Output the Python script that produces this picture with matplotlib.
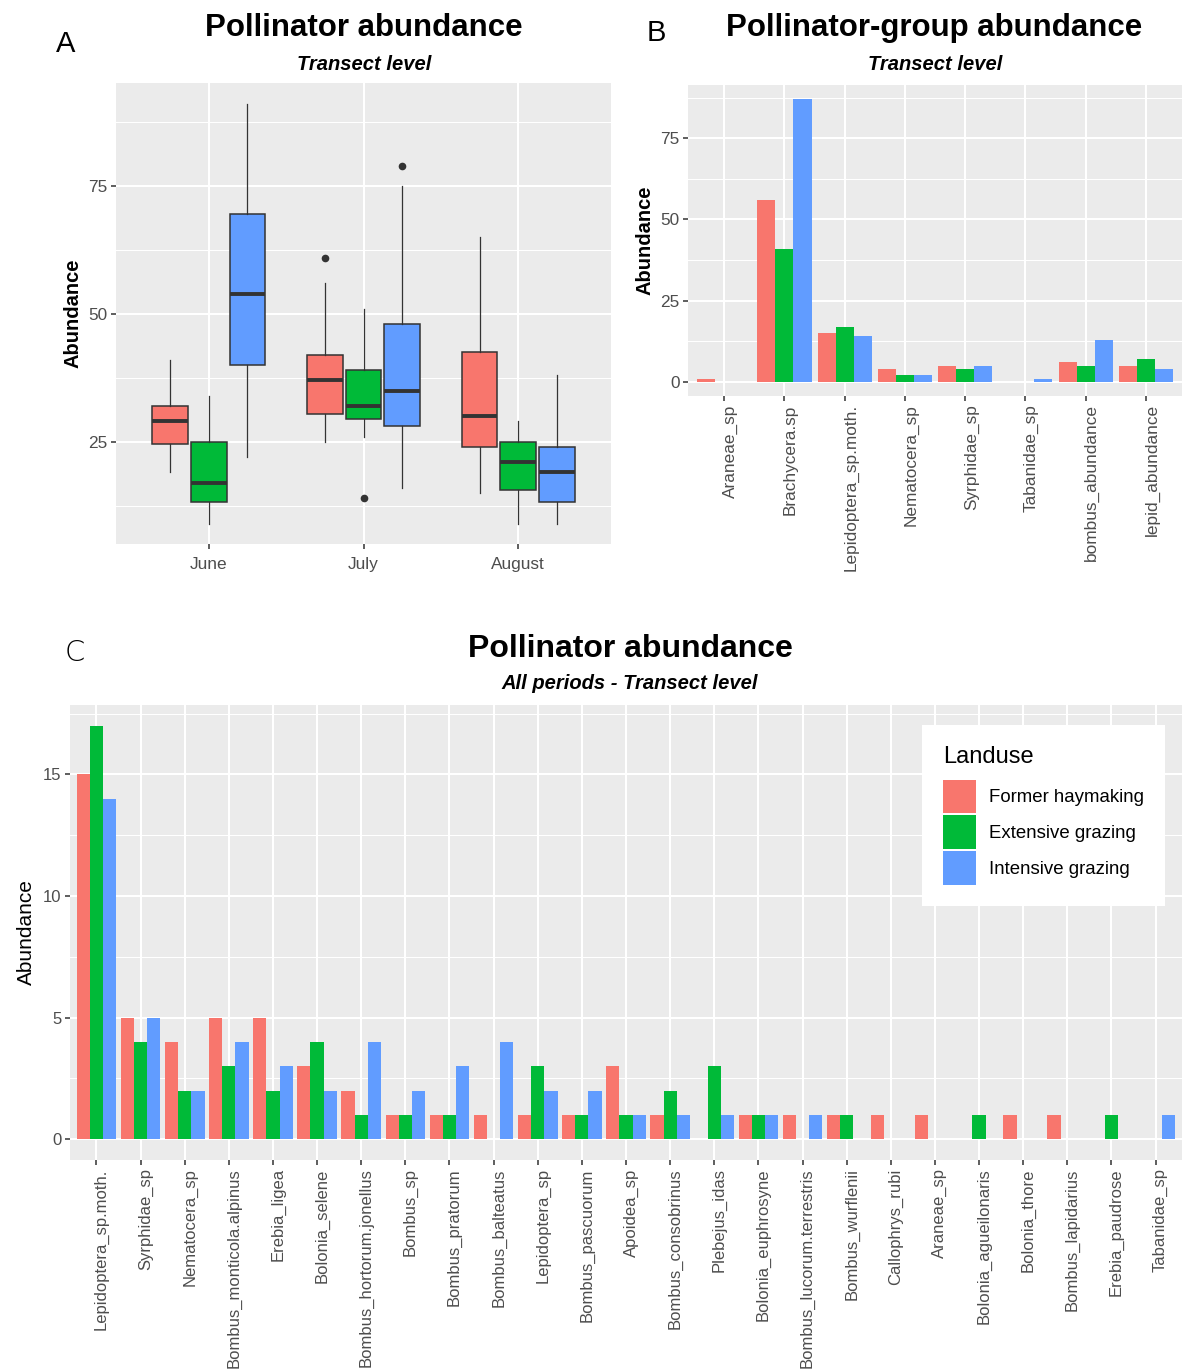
import matplotlib
matplotlib.use("Agg")
import matplotlib.pyplot as plt
import matplotlib.transforms as mtransforms
import numpy as np

plt.rcParams['font.family'] = ['Liberation Sans', 'DejaVu Sans']

landuse = ["Former haymaking", "Extensive grazing", "Intensive grazing"]
colors = ["#F8766D", "#00BA38", "#619CFF"]

# ---- panel A: box stats per month, one row per landuse (whislo, q1, med, q3, whishi)
months = ["June", "July", "August"]
june_stats = [[19, 24.5, 29, 32, 41], [9, 13.3, 17, 25, 34], [22, 40, 54, 69.5, 91]]
july_stats = [[25, 30.5, 37, 42, 56], [26, 29.5, 32, 39, 51], [16, 28, 35, 48, 75]]
august_stats = [[15, 24, 30, 42.5, 65], [9, 15.5, 21, 25, 29], [9, 13.3, 19, 24, 38]]
june_out = [[], [], []]
july_out = [[61], [14], [79]]
august_out = [[], [], []]

# ---- panel B: groups
groups = ["Araneae_sp", "Brachycera.sp", "Lepidoptera_sp.moth.", "Nematocera_sp",
          "Syrphidae_sp", "Tabanidae_sp", "bombus_abundance", "lepid_abundance"]
grp_former = [1, 56, 15, 4, 5, 0, 6, 5]
grp_ext = [0, 41, 17, 2, 4, 0, 5, 7]
grp_int = [0, 87, 14, 2, 5, 1, 13, 4]

# ---- panel C: taxa
taxa = ["Lepidoptera_sp.moth.", "Syrphidae_sp", "Nematocera_sp", "Bombus_monticola.alpinus",
        "Erebia_ligea", "Bolonia_selene", "Bombus_hortorum.jonellus", "Bombus_sp",
        "Bombus_pratorum", "Bombus_balteatus", "Lepidoptera_sp", "Bombus_pascuorum",
        "Apoidea_sp", "Bombus_consobrinus", "Plebejus_idas", "Bolonia_euphrosyne",
        "Bombus_lucorum.terrestris", "Bombus_wurflenii", "Callophrys_rubi", "Araneae_sp",
        "Bolonia_agueilonaris", "Bolonia_thore", "Bombus_lapidarius", "Erebia_paudrose",
        "Tabanidae_sp"]
tax_former = [15, 5, 4, 5, 5, 3, 2, 1, 1, 1, 1, 1, 3, 1, 0, 1, 1, 1, 1, 1, 0, 1, 1, 0, 0]
tax_ext = [17, 4, 2, 3, 2, 4, 1, 1, 1, 0, 3, 1, 1, 2, 3, 1, 0, 1, 0, 0, 1, 0, 0, 1, 0]
tax_int = [14, 5, 2, 4, 3, 2, 4, 2, 3, 4, 2, 2, 1, 1, 1, 1, 1, 0, 0, 0, 0, 0, 0, 0, 1]

W, H = 1182, 1369
fig = plt.figure(figsize=(W / 100, H / 100), dpi=100)


def box(l, t, r, b):
    return [l / W, 1 - b / H, (r - l) / W, (b - t) / H]


def gg_style(ax, ymajor, yminor, size=12.4):
    ax.set_facecolor('#EBEBEB')
    for s in ax.spines.values():
        s.set_visible(False)
    ax.set_yticks(ymajor)
    ax.set_yticks(yminor, minor=True)
    ax.grid(which='major', color='white', lw=1.5)
    ax.grid(which='minor', axis='y', color='white', lw=0.75)
    ax.set_axisbelow(True)
    ax.tick_params(which='major', color='#333333', length=3.5, width=1.1,
                   labelcolor='#4D4D4D', labelsize=size, pad=2.5)
    ax.tick_params(which='minor', length=0)


def shift_labels(ax, dx):
    off = mtransforms.ScaledTranslation(dx / 100, 0, fig.dpi_scale_trans)
    for lab in ax.get_xticklabels():
        lab.set_transform(lab.get_transform() + off)


# ---------------- A
axA = fig.add_axes(box(116, 83, 611, 544))
all_stats = [june_stats, july_stats, august_stats]
all_out = [june_out, july_out, august_out]
for i, (st, out) in enumerate(zip(all_stats, all_out)):
    for j in range(3):
        s = st[j]
        d = dict(whislo=s[0], q1=s[1], med=s[2], q3=s[3], whishi=s[4], fliers=out[j])
        axA.bxp([d], positions=[i + 1 + (j - 1) * 0.25], widths=0.23, patch_artist=True,
                showcaps=False,
                boxprops=dict(facecolor=colors[j], edgecolor='#333333', lw=1.1),
                medianprops=dict(color='#333333', lw=2.8, solid_capstyle='butt'),
                whiskerprops=dict(color='#333333', lw=0.9),
                flierprops=dict(marker='o', markerfacecolor='#333333',
                                markeredgecolor='none', markersize=5.5))
axA.set_xlim(0.4, 3.6)
axA.set_ylim(5.0, 95.2)
axA.set_xticks([1, 2, 3])
axA.set_xticklabels(months)
gg_style(axA, [25, 50, 75], [12.5, 37.5, 62.5, 87.5])
axA.tick_params(axis='x', pad=6)
axA.set_ylabel("Abundance", fontsize=14.5, fontweight='bold', labelpad=4)

# ---------------- B
axB = fig.add_axes(box(688, 85, 1182, 396))
xb = np.arange(1, len(groups) + 1)
for j, vals in enumerate([grp_former, grp_ext, grp_int]):
    axB.bar(xb + (j - 1) * 0.3, vals, width=0.3, color=colors[j], lw=0)
axB.set_xlim(0.4, len(groups) + 0.6)
axB.set_ylim(-4.35, 91.35)
axB.set_xticks(xb)
axB.set_xticklabels(groups, rotation=90, ha='center', va='top')
gg_style(axB, [0, 25, 50, 75], [12.5, 37.5, 62.5, 87.5])
shift_labels(axB, 6)
axB.set_ylabel("Abundance", fontsize=14.5, fontweight='bold', labelpad=4)

# ---------------- C
axC = fig.add_axes(box(70, 705, 1182, 1160))
xc = np.arange(1, len(taxa) + 1)
handles = []
for j, vals in enumerate([tax_former, tax_ext, tax_int]):
    h = axC.bar(xc + (j - 1) * 0.3, vals, width=0.3, color=colors[j], lw=0, label=landuse[j])
    handles.append(h)
axC.set_xlim(0.4, len(taxa) + 0.6)
axC.set_ylim(-0.85, 17.85)
axC.set_xticks(xc)
axC.set_xticklabels(taxa, rotation=90, ha='center', va='top')
gg_style(axC, [0, 5, 10, 15], [2.5, 7.5, 12.5, 17.5], size=12.0)
shift_labels(axC, 5)
axC.set_ylabel("Abundance", fontsize=15, labelpad=5)

leg = axC.legend(handles=handles, title="Landuse", loc='upper right',
                 bbox_to_anchor=(1165 / W, 1 - 725 / H), bbox_transform=fig.transFigure,
                 borderaxespad=0, fontsize=13.4, title_fontsize=17,
                 handlelength=1.75, handleheight=2.4, labelspacing=0.12,
                 handletextpad=0.7, borderpad=1.15, fancybox=False,
                 framealpha=1, edgecolor='none', alignment='left')
leg._legend_box.sep = 8

# ---------------- titles and panel letters
fig.text(364 / W, 1 - 36 / H, "Pollinator abundance", ha='center', va='baseline',
         fontsize=22.5, fontweight='bold')
fig.text(364 / W, 1 - 70 / H, "Transect level", ha='center', va='baseline',
         fontsize=14.5, fontweight='bold', style='italic')
fig.text(934 / W, 1 - 36 / H, "Pollinator-group abundance", ha='center', va='baseline',
         fontsize=22.5, fontweight='bold')
fig.text(935 / W, 1 - 70 / H, "Transect level", ha='center', va='baseline',
         fontsize=14.5, fontweight='bold', style='italic')
fig.text(630 / W, 1 - 657 / H, "Pollinator abundance", ha='center', va='baseline',
         fontsize=23, fontweight='bold')
fig.text(630 / W, 1 - 689 / H, "All periods - Transect level", ha='center', va='baseline',
         fontsize=14.5, fontweight='bold', style='italic')
fig.text(66 / W, 1 - 52 / H, "A", ha='center', va='baseline', fontsize=21)
fig.text(656 / W, 1 - 41 / H, "B", ha='center', va='baseline', fontsize=21)
fig.text(75 / W, 1 - 661 / H, "C", ha='center', va='baseline', fontsize=21,
         family='DejaVu Sans', fontweight='light')

fig.savefig("out.png", dpi=100, facecolor='white')
